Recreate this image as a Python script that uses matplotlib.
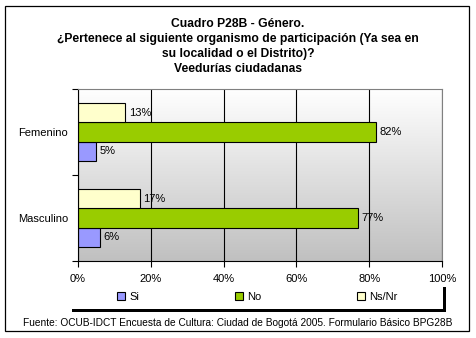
import matplotlib
matplotlib.use("Agg")
import matplotlib.pyplot as plt
import numpy as np
from matplotlib.patches import Rectangle

plt.rcParams["font.family"] = ["Liberation Sans", "DejaVu Sans"]

categories = ["Masculino", "Femenino"]
series_names = ["Si", "No", "Ns/Nr"]
si = [6, 5]
no = [77, 82]
nsnr = [17, 13]
colors = ["#9999FF", "#99CC00", "#FFFFCC"]
x_ticks = [0, 20, 40, 60, 80, 100]

W, H = 476, 338
fig = plt.figure(figsize=(W / 100, H / 100), dpi=100)
fig.patch.set_facecolor("white")


def fx(px):
    return px / W


def fy(py):
    return 1 - py / H


# outer frame
fig.patches.append(Rectangle((fx(5), fy(331)), fx(464), (331 - 6) / H,
                             transform=fig.transFigure, fill=False,
                             edgecolor="black", linewidth=0.9))

ax = fig.add_axes([fx(78), fy(261), fx(364), 172 / H])

# gradient background
grad = np.linspace(1.0, 0.0, 256).reshape(-1, 1)
ax.imshow(grad, extent=[0, 1, 0, 1], transform=ax.transAxes, aspect="auto",
          cmap=matplotlib.colors.LinearSegmentedColormap.from_list(
              "bg", ["#c0c0c0", "#ffffff"]), vmin=0, vmax=1, zorder=0)

bar_h = 0.226
y = np.arange(len(categories)) + 0.5
for vals, off, c, name in zip([si, no, nsnr], [-bar_h, 0, bar_h], colors, series_names):
    bars = ax.barh(y + off, vals, height=bar_h, color=c, edgecolor="black",
                   linewidth=0.8, zorder=3, label=name)
    for b, v in zip(bars, vals):
        ax.annotate(f"{v}%", (b.get_width(), b.get_y() + b.get_height() / 2),
                    xytext=(2.5, 0), textcoords="offset points",
                    va="center", ha="left", fontsize=8, zorder=4)

ax.set_xlim(0, 100)
ax.set_ylim(0, 2)
ax.set_xticks(x_ticks)
ax.set_xticklabels([f"{t}%" for t in x_ticks], fontsize=8)
ax.tick_params(axis="x", length=4, width=0.8, direction="out", pad=5)
ax.set_yticks(y)
ax.set_yticklabels(categories, fontsize=8)
ax.tick_params(axis="y", which="major", length=0, pad=7)
ax.set_yticks([0, 1, 2], minor=True)
ax.tick_params(axis="y", which="minor", length=4, width=0.8)

ax.xaxis.grid(True, color="black", linewidth=0.8, zorder=1)
ax.set_axisbelow(True)
for side in ["left", "bottom"]:
    ax.spines[side].set_color("black")
    ax.spines[side].set_linewidth(0.8)
for side in ["top", "right"]:
    ax.spines[side].set_color("#808080")
    ax.spines[side].set_linewidth(0.8)
for s in ax.spines.values():
    s.set_zorder(5)

title_lines = [
    "Cuadro P28B - Género.",
    "¿Pertenece al siguiente organismo de participación (Ya sea en",
    "su localidad o el Distrito)?",
    "Veedurías ciudadanas",
]
for i, line in enumerate(title_lines):
    fig.text(fx(238), fy(24 + 15 * i), line, ha="center", va="center",
             fontsize=8.7, fontweight="bold")

# legend shadow: thick bottom and right edges
fig.patches.append(Rectangle((fx(72), fy(312)), fx(374), 3 / H,
                             transform=fig.transFigure, facecolor="black",
                             edgecolor="none"))
fig.patches.append(Rectangle((fx(443), fy(312)), fx(3), 25 / H,
                             transform=fig.transFigure, facecolor="black",
                             edgecolor="none"))
handles = [Rectangle((0, 0), 1, 1, facecolor=c, edgecolor="black", linewidth=0.8)
           for c in colors]
fig.legend(handles, series_names, loc="center left", ncol=3,
           bbox_to_anchor=(fx(117), fy(297)),
           frameon=False, fontsize=8, handlelength=0.75, handleheight=0.75,
           handletextpad=0.35, columnspacing=8.6, borderpad=0, borderaxespad=0)

fig.text(fx(238), fy(323),
         "Fuente: OCUB-IDCT Encuesta de Cultura: Ciudad de Bogotá 2005. Formulario Básico BPG28B",
         ha="center", va="center", fontsize=7.25)

fig.savefig("out.png", dpi=100)
